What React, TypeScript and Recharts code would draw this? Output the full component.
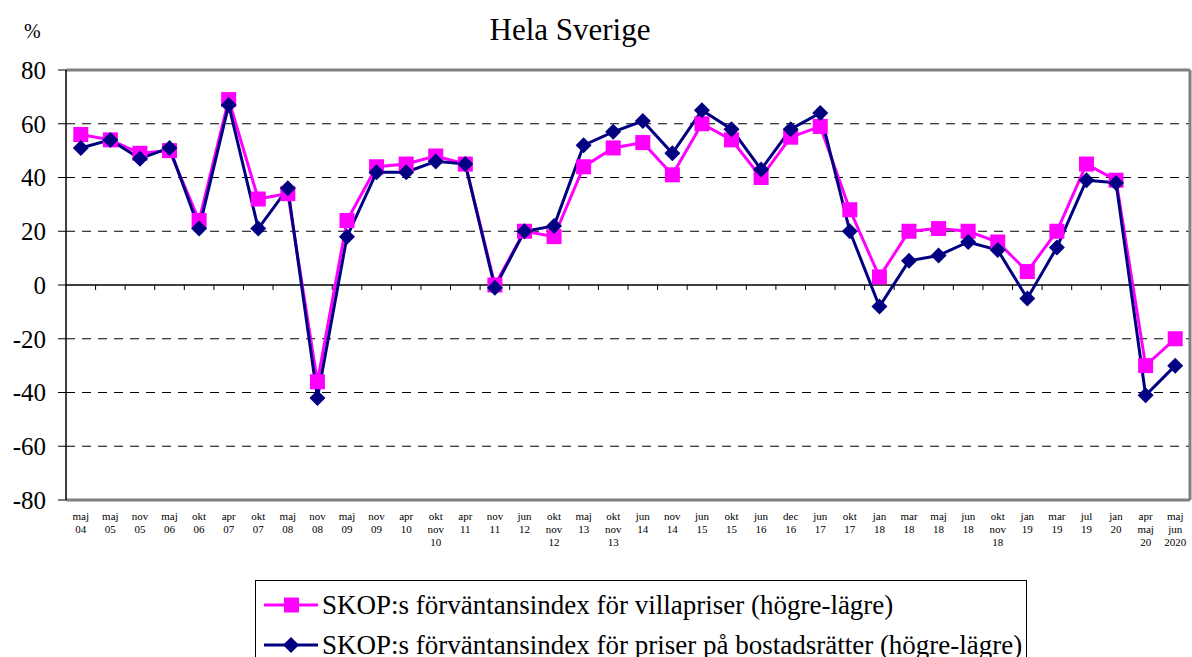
import React from 'react';
import { LineChart, Line, XAxis, YAxis, Legend, ReferenceLine } from 'recharts';

// kategorier (tidpunkter), rader separerade med \n
const periods = [
  'maj\n04', 'maj\n05', 'nov\n05', 'maj\n06', 'okt\n06', 'apr\n07', 'okt\n07', 'maj\n08', 'nov\n08', 'maj\n09',
  'nov\n09', 'apr\n10', 'okt\nnov\n10', 'apr\n11', 'nov\n11', 'jun\n12', 'okt\nnov\n12', 'maj\n13', 'okt\nnov\n13', 'jun\n14',
  'nov\n14', 'jun\n15', 'okt\n15', 'jun\n16', 'dec\n16', 'jun\n17', 'okt\n17', 'jan\n18', 'mar\n18', 'maj\n18',
  'jun\n18', 'okt\nnov\n18', 'jan\n19', 'mar\n19', 'jul\n19', 'jan\n20', 'apr\nmaj\n20', 'maj\njun\n2020',
];

const villapriser = [
  56, 54, 49, 50, 24, 69, 32, 34, -36, 24,
  44, 45, 48, 45, 0, 20, 18, 44, 51, 53,
  41, 60, 54, 40, 55, 59, 28, 3, 20, 21,
  20, 16, 5, 20, 45, 39, -30, -20,
];

const bostadsratter = [
  51, 54, 47, 51, 21, 67, 21, 36, -42, 18,
  42, 42, 46, 45, -1, 20, 22, 52, 57, 61,
  49, 65, 58, 43, 58, 64, 20, -8, 9, 11,
  16, 13, -5, 14, 39, 38, -41, -30,
];

const yTicks = [80, 60, 40, 20, 0, -20, -40, -60, -80];

const VILLA_NAME = 'SKOP:s förväntansindex för villapriser (högre-lägre)';
const BR_NAME = 'SKOP:s förväntansindex för priser på bostadsrätter (högre-lägre)';

const PINK = '#FF00FF';
const NAVY = '#000080';
const FONT = '"Liberation Serif", "Times New Roman", serif';

const data = periods.map((p, i) => ({
  period: p,
  villa: villapriser[i],
  br: bostadsratter[i],
}));

const SquareDot = (props: any) => {
  const { cx, cy } = props;
  if (cx == null || cy == null) return null;
  return <rect x={cx - 7.5} y={cy - 7.5} width={15} height={15} fill={PINK} />;
};

const DiamondDot = (props: any) => {
  const { cx, cy } = props;
  if (cx == null || cy == null) return null;
  const r = 8;
  return <polygon points={`${cx},${cy - r} ${cx + r},${cy} ${cx},${cy + r} ${cx - r},${cy}`} fill={NAVY} />;
};

const PeriodTick = (props: any) => {
  const { x, y, payload } = props;
  const lines = String(payload.value).split('\n');
  return (
    <text x={x} y={y} textAnchor="middle" fontFamily={FONT} fontSize={11} fill="#000">
      {lines.map((l, i) => (
        <tspan key={i} x={x} dy={i === 0 ? 12 : 13}>{l}</tspan>
      ))}
    </text>
  );
};

// nollinjen med små streck vid kategorigränserna
const ZeroLine = (props: any) => {
  const { x1, x2, y1 } = props;
  if (x1 == null) return null;
  const step = (x2 - x1) / periods.length;
  return (
    <g>
      <line x1={x1} x2={x2} y1={y1} y2={y1} stroke="#000" strokeWidth={1.5} />
      {periods.slice(1).map((_, i) => (
        <line key={i} x1={x1 + step * (i + 1)} x2={x1 + step * (i + 1)} y1={y1} y2={y1 + 5} stroke="#000" strokeWidth={1} />
      ))}
    </g>
  );
};

const LegendBox = () => {
  const row = (name: string, color: string, marker: React.ReactNode) => (
    <div style={{ display: 'flex', alignItems: 'center', height: 40 }}>
      <svg width={64} height={20} style={{ flex: 'none' }}>
        <line x1={6} x2={60} y1={10} y2={10} stroke={color} strokeWidth={3} />
        {marker}
      </svg>
      <span style={{ fontFamily: FONT, fontSize: 27, color: '#000', whiteSpace: 'nowrap' }}>{name}</span>
    </div>
  );
  return (
    <div style={{ border: '1px solid #000', padding: '4px 4px 4px 2px', background: '#fff' }}>
      {row(VILLA_NAME, PINK, <rect x={26} y={2.5} width={15} height={15} fill={PINK} />)}
      {row(BR_NAME, NAVY, <polygon points="33,2 41,10 33,18 25,10" fill={NAVY} />)}
    </div>
  );
};

export default function App() {
  return (
    <div style={{ position: 'absolute', left: 0, top: 0, width: 1192, height: 657, overflow: 'hidden', background: '#fff' }}>
      <div style={{ position: 'absolute', left: 0, top: 12, width: 1140, textAlign: 'center', fontFamily: FONT, fontSize: 31, lineHeight: '36px' }}>
        Hela Sverige
      </div>
      <div style={{ position: 'absolute', left: 24, top: 20, fontFamily: FONT, fontSize: 20 }}>%</div>
      <LineChart
        width={1192}
        height={657}
        data={data}
        margin={{ top: 70, right: 0, left: 0, bottom: 0 }}
      >
        {yTicks.filter(t => t !== 0 && Math.abs(t) !== 80).map(t => (
          <ReferenceLine key={t} y={t} stroke="#000" strokeDasharray="9 7" strokeWidth={1} />
        ))}
        <ReferenceLine y={80} stroke="#808080" strokeWidth={3} />
        <ReferenceLine y={-80} stroke="#808080" strokeWidth={3} />
        <ReferenceLine y={0} shape={<ZeroLine />} />
        <XAxis
          dataKey="period"
          scale="band"
          interval={0}
          axisLine={false}
          tickLine={false}
          tick={<PeriodTick />}
          height={157}
        />
        <YAxis
          width={66}
          domain={[-80, 80]}
          ticks={yTicks}
          interval={0}
          axisLine={{ stroke: '#000', strokeWidth: 1.5 }}
          tickLine={{ stroke: '#000' }}
          tickSize={8}
          tickMargin={12}
          tick={{ fontFamily: FONT, fontSize: 25, fill: '#000' }}
        />
        <YAxis
          yAxisId="right"
          orientation="right"
          width={2}
          domain={[-80, 80]}
          tick={false}
          tickLine={false}
          axisLine={{ stroke: '#808080', strokeWidth: 3 }}
        />
        <Line
          dataKey="villa"
          name={VILLA_NAME}
          stroke={PINK}
          strokeWidth={3}
          dot={<SquareDot />}
          activeDot={false}
          isAnimationActive={false}
        />
        <Line
          dataKey="br"
          name={BR_NAME}
          stroke={NAVY}
          strokeWidth={3}
          dot={<DiamondDot />}
          activeDot={false}
          isAnimationActive={false}
        />
        <Legend
          layout="horizontal"
          verticalAlign="middle"
          align="center"
          wrapperStyle={{ left: 255, top: 580, width: 'auto' }}
          content={<LegendBox />}
        />
      </LineChart>
    </div>
  );
}
